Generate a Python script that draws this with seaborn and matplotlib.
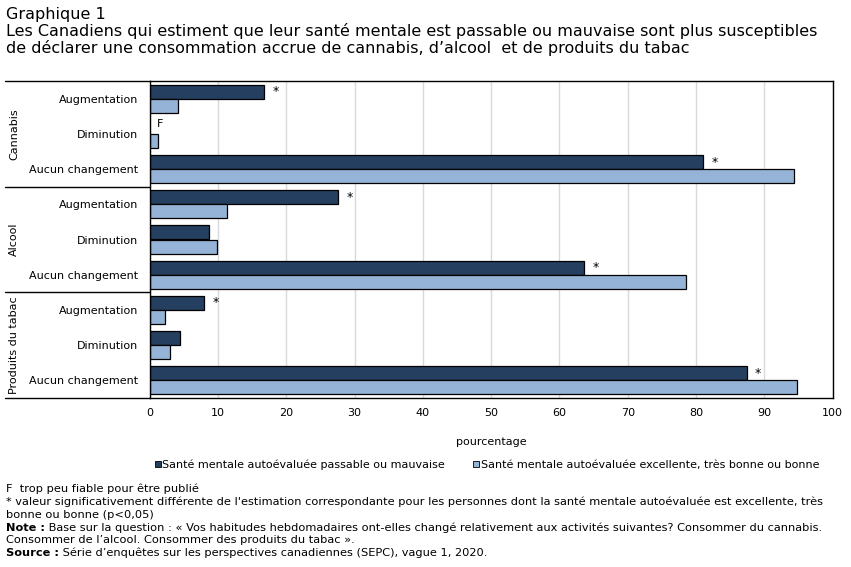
import numpy as np
import pandas as pd
import matplotlib
matplotlib.use("Agg")
import matplotlib.pyplot as plt
import seaborn as sns
from matplotlib.lines import Line2D
import matplotlib.transforms as mtransforms

# ---- data ----
groups = ["Cannabis", "Alcool", "Produits du tabac"]
changes = ["Augmentation", "Diminution", "Aucun changement"]
series = ["Santé mentale autoévaluée passable ou mauvaise",
          "Santé mentale autoévaluée excellente, très bonne ou bonne"]
poor_vals = [16.8, np.nan, 81.0, 27.6, 8.7, 63.6, 8.0, 4.5, 87.4]
good_vals = [4.1, 1.3, 94.4, 11.3, 9.9, 78.6, 2.2, 3.0, 94.8]
poor_flags = ["*", "F", "*", "*", "", "*", "*", "", "*"]
xticks = [0, 10, 20, 30, 40, 50, 60, 70, 80, 90, 100]

colors = ["#243f60", "#95b3d7"]

rows = []
keys = []
for gi, g in enumerate(groups):
    for ci, c in enumerate(changes):
        k = f"{g}|{c}"
        keys.append(k)
        i = gi * 3 + ci
        rows.append({"cat": k, "serie": series[0], "val": poor_vals[i]})
        rows.append({"cat": k, "serie": series[1], "val": good_vals[i]})
df = pd.DataFrame(rows)

sns.set_theme(style="white")
plt.rcParams["font.family"] = ["DejaVu Sans"]
plt.rcParams["text.color"] = "black"
plt.rcParams["xtick.color"] = "black"
plt.rcParams["ytick.color"] = "black"
plt.rcParams["axes.labelcolor"] = "black"

fig = plt.figure(figsize=(8.51, 5.67), dpi=100)
ax = fig.add_axes([149.6 / 851, 1 - 398 / 567, (832.6 - 149.6) / 851, (398 - 81) / 567])

sns.barplot(data=df, y="cat", x="val", hue="serie", order=keys, hue_order=series,
            palette=colors, saturation=1, orient="h", edgecolor="black", linewidth=0.9,
            width=0.8, ax=ax, legend=False, errorbar=None)

ax.set_xlim(0, 100)
ax.set_ylim(8.5, -0.5)
ax.set_xticks(xticks)
ax.set_xticklabels([str(t) for t in xticks], fontsize=8)
ax.set_yticks(range(len(keys)))
ax.set_yticklabels([k.split("|")[1] for k in keys], fontsize=8)
ax.tick_params(axis="both", length=0, pad=8)
ax.tick_params(axis="x", pad=7)
ax.set_xlabel("pourcentage", fontsize=8, labelpad=14)
ax.set_ylabel("")
ax.xaxis.grid(True, color="#d9d9d9", linewidth=1.0)
ax.set_axisbelow(True)
for s in ax.spines.values():
    s.set_color("black")
    s.set_linewidth(1.0)
    s.set_visible(True)

# flags next to dark bars
for i, flag in enumerate(poor_flags):
    if not flag:
        continue
    yc = i - 0.2
    v = poor_vals[i]
    if flag == "F":
        ax.annotate("F", xy=(0, yc), xytext=(5.5, 2), textcoords="offset points",
                    ha="left", va="center", fontsize=8)
    else:
        ax.annotate("*", xy=(v, yc), xytext=(6, 0), textcoords="offset points",
                    ha="left", va="center", fontsize=9)

# group labels and separators in the label column
trans = mtransforms.blended_transform_factory(fig.transFigure, ax.transData)
x0 = 5 / 851
x1 = 149.6 / 851
for yb in [-0.5, 2.5, 5.5, 8.5]:
    fig.add_artist(Line2D([x0, x1], [yb, yb], transform=trans, color="black", linewidth=1.0))
for gi, g in enumerate(groups):
    fig.text(14 / 851, gi * 3 + 1, g, transform=trans, rotation=90, ha="center",
             va="center", fontsize=8)

# legend
handles = [Line2D([0], [0], marker="s", linestyle="", markersize=5,
                  markerfacecolor=c, markeredgecolor="black", markeredgewidth=0.6)
           for c in colors]
fig.legend(handles, series, loc="center left", bbox_to_anchor=(148 / 851, 1 - 465 / 567),
           ncol=2, frameon=False, fontsize=8, handletextpad=0.0, columnspacing=2.4,
           handlelength=0.8, borderpad=0)

# title
tfs = 11.5
fig.text(6 / 851, 1 - 14 / 567, "Graphique 1", fontsize=tfs, va="center", ha="left")
fig.text(6 / 851, 1 - 31 / 567,
         "Les Canadiens qui estiment que leur santé mentale est passable ou mauvaise sont plus susceptibles",
         fontsize=tfs, va="center", ha="left")
fig.text(6 / 851, 1 - 48 / 567,
         "de déclarer une consommation accrue de cannabis, d’alcool  et de produits du tabac",
         fontsize=tfs, va="center", ha="left")

# footnotes
foot = [
    ("", "F  trop peu fiable pour être publié"),
    ("", "* valeur significativement différente de l'estimation correspondante pour les personnes dont la santé mentale autoévaluée est excellente, très"),
    ("", "bonne ou bonne (p<0,05)"),
    ("Note :", " Base sur la question : « Vos habitudes hebdomadaires ont-elles changé relativement aux activités suivantes? Consommer du cannabis."),
    ("", "Consommer de l’alcool. Consommer des produits du tabac »."),
    ("Source :", " Série d’enquêtes sur les perspectives canadiennes (SEPC), vague 1, 2020."),
]
ffs = 8.2
ys = [489, 502, 515, 528, 540, 553]
fig.canvas.draw()
for (b, t), y in zip(foot, ys):
    yy = 1 - y / 567
    if b:
        tb = fig.text(6 / 851, yy, b, fontsize=ffs, fontweight="bold", va="center", ha="left")
        fig.canvas.draw()
        bb = tb.get_window_extent()
        fig.text(bb.x1 / 851, yy, t, fontsize=ffs, va="center", ha="left")
    else:
        fig.text(6 / 851, yy, t, fontsize=ffs, va="center", ha="left")

fig.savefig("out.png", dpi=100)
